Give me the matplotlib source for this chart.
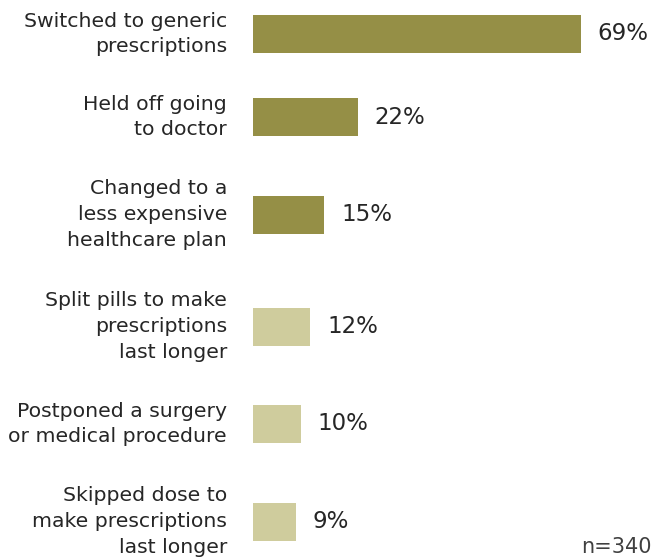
import matplotlib.pyplot as plt

# Datos
acciones = [
    "Switched to generic\nprescriptions",
    "Held off going\nto doctor",
    "Changed to a\nless expensive\nhealthcare plan",
    "Split pills to make\nprescriptions\nlast longer",
    "Postponed a surgery\nor medical procedure",
    "Skipped dose to\nmake prescriptions\nlast longer",
]
porcentajes = [69, 22, 15, 12, 10, 9]
grupo = ["oscuro", "oscuro", "oscuro", "claro", "claro", "claro"]
muestra = "n=340"

colores = {"oscuro": "#958f46", "claro": "#cfcc9d"}

plt.rcParams['font.family'] = ['DejaVu Sans']

# Posicion vertical de cada barra segun las lineas de su etiqueta
lineas = [a.count("\n") + 1 for a in acciones]
centros = [34.0]
for i in range(1, len(acciones)):
    centros.append(centros[-1] + 25 + 14.5 * (lineas[i - 1] + lineas[i]))

fig = plt.figure(figsize=(6.57, 5.59), dpi=100)
ax = fig.add_axes([253 / 657, 0, 404 / 657, 1])
ax.set_xlim(0, 404 / 4.75)
ax.set_ylim(559, 0)
ax.axis("off")

ax.barh(centros, porcentajes, height=38,
        color=[colores[g] for g in grupo], edgecolor="none")

for y, valor, texto in zip(centros, porcentajes, acciones):
    # Valor al final de la barra
    ax.annotate(f"{valor}%", xy=(valor, y), xytext=(17, 0),
                textcoords="offset pixels", ha="left", va="center",
                fontsize=16.5, color="#262626")
    # Etiqueta a la izquierda
    ax.annotate(texto, xy=(0, y), xytext=(-26, 0),
                textcoords="offset pixels", ha="right", va="center",
                fontsize=14.7, color="#262626", linespacing=1.45,
                annotation_clip=False)

fig.text(652 / 657, 1 - 553 / 559, muestra, ha="right", va="baseline",
         fontsize=15, color="#404040")

fig.savefig("out.png", dpi=100)
